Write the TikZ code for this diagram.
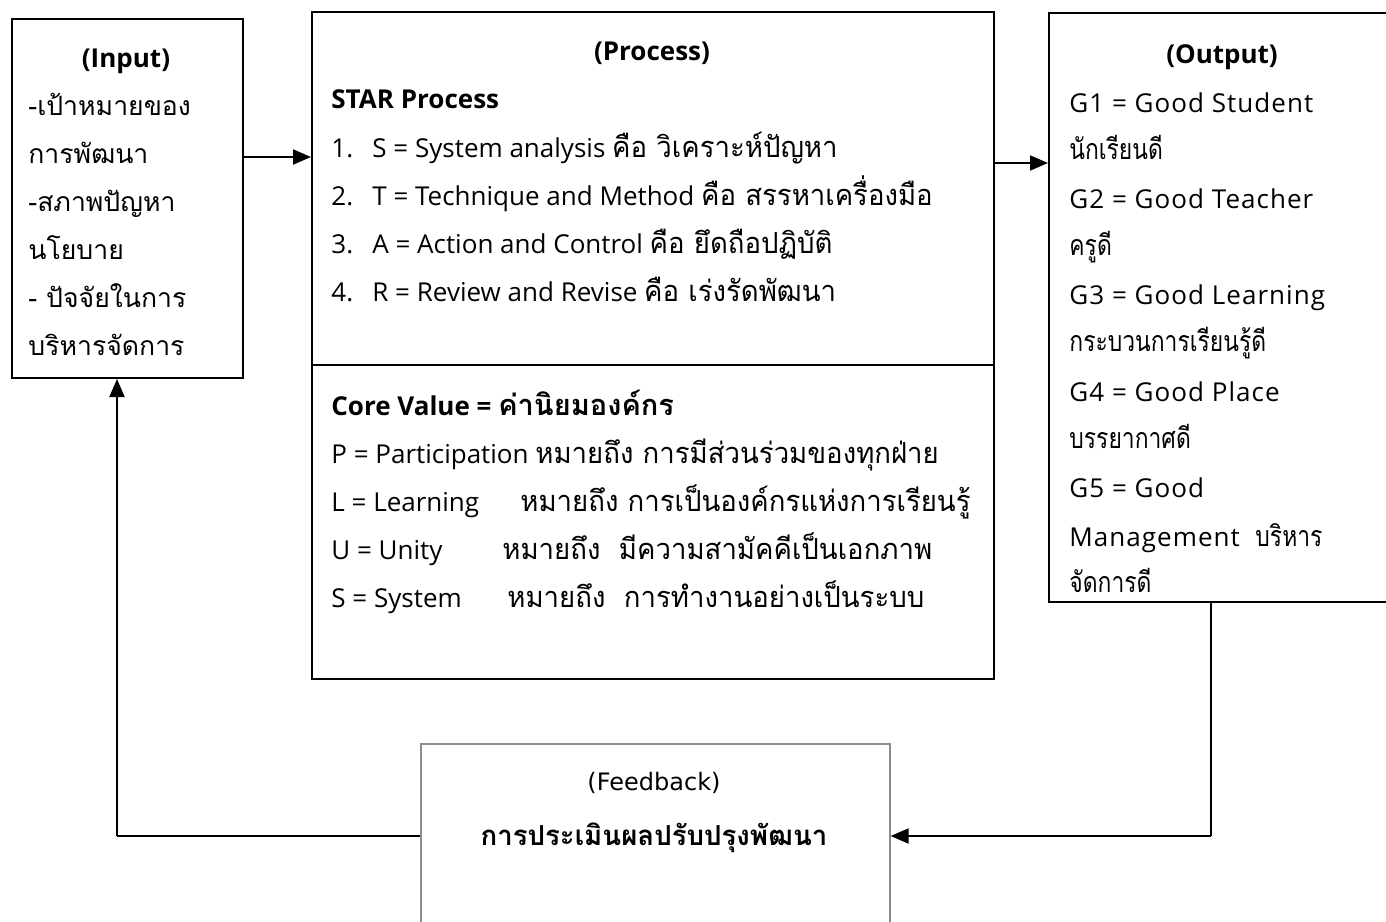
\documentclass[tikz,border=0pt]{standalone}
\usepackage{fontspec}
\setmainfont{Open Sans}
\newfontfamily\thf[Script=Thai]{Loma}
\newfontfamily\pthf[Script=Thai,FakeStretch=0.95]{Loma}
\newfontfamily\othf[Script=Thai,FakeStretch=0.8]{Loma}
\newfontfamily\olat[LetterSpace=4]{Open Sans}
\newfontfamily\dvs{DejaVu Sans}
\usetikzlibrary{arrows.meta}
\tikzset{
  boxline/.style={draw=black, line width=1pt, inner sep=0pt},
  intxt/.style={anchor=base west, inner sep=0pt, font=\thf\fontsize{13.3}{15}\selectfont},
  ptxt/.style={anchor=base west, inner sep=0pt, font=\fontsize{13}{15}\selectfont},
  pbold/.style={anchor=base west, inner sep=0pt, font=\bfseries\fontsize{13}{15}\selectfont},
  otxt/.style={anchor=base west, inner sep=0pt, font=\olat\fontsize{13}{15}\selectfont},
  othai/.style={anchor=base west, inner sep=0pt, font=\othf\fontsize{14.3}{15}\selectfont},
  head/.style={anchor=base, inner sep=0pt, font=\bfseries\fontsize{13}{15}\selectfont},
  arr/.style={line width=1pt, -{Triangle[length=9pt,width=7.5pt]}},
  plain/.style={line width=1pt},
}
\newcommand{\tth}[1]{{\pthf\fontsize{14.5}{16}\selectfont #1}}
\begin{document}
\begin{tikzpicture}[x=0.5pt,y=-0.5pt]
\useasboundingbox (0,0) rectangle (1386,921);
\clip (0,0) rectangle (1386,921);
\fill[white] (0,0) rectangle (1386,921);
% boxes
\node[boxline, minimum width=115.5pt, minimum height=179.5pt, anchor=north west] (in) at (11,18) {};
\node[boxline, minimum width=341pt, minimum height=333.5pt, anchor=north west] (proc) at (311,11) {};
\coordinate (divl) at (311,365);
\coordinate (divr) at (993,365);
\draw[plain] (divl) -- (divr);
\node[boxline, minimum width=190pt, minimum height=294.5pt, anchor=north west] (out) at (1048,12) {};
\node[draw=black!45, line width=0.8pt, inner sep=0pt, minimum width=234.5pt, minimum height=130pt, anchor=north west] (fb) at (420,743) {};
% input text
\node[head] (inh) at (126,67) {(Input)};
\node[intxt] (in1) at (28,115) {-เป้าหมายของ};
\node[intxt] (in2) at (28,163) {การพัฒนา};
\node[intxt] (in3) at (28,211) {-สภาพปัญหา};
\node[intxt] (in4) at (28,259) {นโยบาย};
\node[intxt] (in5) at (28,307) {- ปัจจัยในการ};
\node[intxt] (in6) at (28,355) {บริหารจัดการ};
% process text
\node[head] (ph) at (652,60) {(Process)};
\node[pbold] (p0) at (331,108) {STAR Process};
\node[ptxt] (p1) at (331,157) {\makebox[20.5pt][l]{1.}S = System analysis \tth{คือ วิเคราะห์ปัญหา}};
\node[ptxt] (p2) at (331,205) {\makebox[20.5pt][l]{2.}T = Technique and Method \tth{คือ สรรหาเครื่องมือ}};
\node[ptxt] (p3) at (331,253) {\makebox[20.5pt][l]{3.}A = Action and Control \tth{คือ ยึดถือปฏิบัติ}};
\node[ptxt] (p4) at (331,301) {\makebox[20.5pt][l]{4.}R = Review and Revise \tth{คือ เร่งรัดพัฒนา}};
\node[pbold] (c0) at (331,415) {Core Value = {\thf\bfseries\fontsize{14.5}{16}\selectfont ค่านิยมองค์กร}};
\node[ptxt] (c1) at (331,463) {P = Participation \tth{หมายถึง การมีส่วนร่วมของทุกฝ่าย}};
\node[ptxt] (c2a) at (331,511) {L = Learning};
\node[ptxt] (c2b) at (520,511) {\tth{หมายถึง การเป็นองค์กรแห่งการเรียนรู้}};
\node[ptxt] (c3a) at (331,559) {U = Unity};
\node[ptxt] (c3b) at (502,559) {\tth{หมายถึง\ \ มีความสามัคคีเป็นเอกภาพ}};
\node[ptxt] (c4a) at (331,607) {S = System};
\node[ptxt] (c4b) at (507,607) {\tth{หมายถึง\ \ การทำงานอย่างเป็นระบบ}};
% output text
\node[head] (oh) at (1222,63) {(Output)};
\node[otxt] (o1) at (1069,112) {G1 = Good Student};
\node[othai] (o2) at (1069,159) {นักเรียนดี};
\node[otxt] (o3) at (1069,208) {G2 = Good Teacher};
\node[othai] (o4) at (1069,255) {ครูดี};
\node[otxt] (o5) at (1069,304) {G3 = Good Learning};
\node[othai] (o6) at (1069,351) {กระบวนการเรียนรู้ดี};
\node[otxt] (o7) at (1069,401) {G4 = Good Place};
\node[othai] (o8) at (1069,448) {บรรยากาศดี};
\node[otxt] (o9) at (1069,497) {G5 = Good};
\node[otxt] (o10) at (1069,546) {Management\ \ {\othf\fontsize{14.3}{15}\selectfont บริหาร}};
\node[othai] (o11) at (1069,592) {จัดการดี};
% feedback text
\node[anchor=base, inner sep=0pt, font=\dvs\fontsize{12}{14}\selectfont] (fh) at (654,790) {(Feedback)};
\node[anchor=base, inner sep=0pt, font=\thf\bfseries\fontsize{13.8}{16}\selectfont] (ft) at (654,845) {การประเมินผลปรับปรุงพัฒนา};
% connectors
\coordinate (y1) at (0,157);
\coordinate (y2) at (0,163);
\coordinate (xr) at (1211,836);
\coordinate (xl) at (117,836);
\draw[arr] (in.east |- y1) -- (proc.west |- y1);
\draw[arr] (proc.east |- y2) -- (out.west |- y2);
\draw[plain] (out.south -| xr) -- (xr);
\draw[arr] (xr) -- (fb.east |- xr);
\draw[plain] (fb.west |- xl) -- (xl);
\draw[arr] (xl) -- (in.south -| xl);
\end{tikzpicture}
\end{document}
